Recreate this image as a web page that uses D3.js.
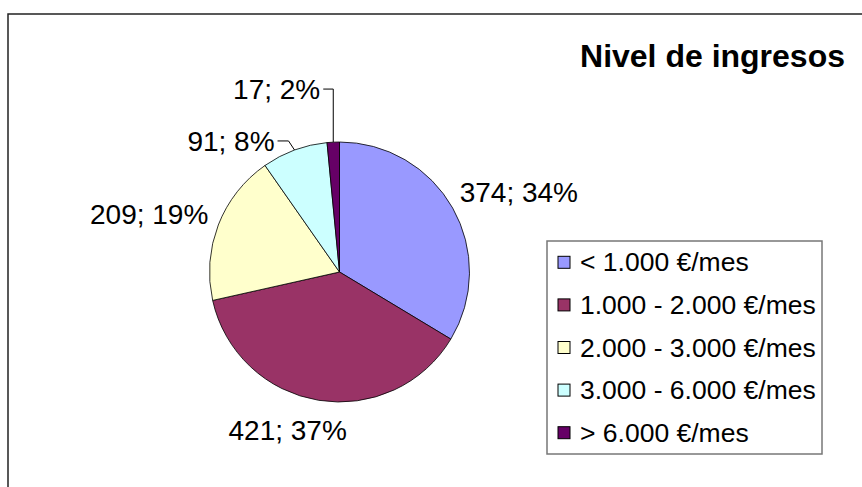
<!DOCTYPE html>
<html>
<head>
<meta charset="utf-8">
<script src="https://cdn.jsdelivr.net/npm/d3@7"></script>
<style>
  body { margin: 0; background: #fff; }
  text { font-family: "Liberation Sans", Arial, sans-serif; fill: #000; }
</style>
</head>
<body>
<div class="chart"></div>
<script>
// Chart data
var categories = ["< 1.000 €/mes", "1.000 - 2.000 €/mes", "2.000 - 3.000 €/mes", "3.000 - 6.000 €/mes", "> 6.000 €/mes"];
var counts = [374, 421, 209, 91, 17];
var percents = [34, 37, 19, 8, 2];
var sliceColors = ["#9999FF", "#993366", "#FFFFCC", "#CCFFFF", "#660066"];
var chartTitle = "Nivel de ingresos";

// Label layout: offset from the slice edge point, anchor, leader elbow
var labelLayout = [
  { dx: 7, dy: -6, anchor: "start", leader: false },
  { dx: -31, dy: 40, anchor: "middle", leader: false },
  { dx: -10, dy: -1, anchor: "end", leader: false },
  { dx: -20, dy: 1, anchor: "end", leader: true, elbow: 6 },
  { dx: -13, dy: -43, anchor: "end", leader: true, elbow: 0 }
];

var svgWidth = 862;
var svgHeight = 487;

var svg = d3.select(".chart")
  .append("svg")
  .attr("width", svgWidth)
  .attr("height", svgHeight);

// Outer chart frame (runs off the right and bottom edges)
svg.append("rect")
  .attr("x", 8)
  .attr("y", 14)
  .attr("width", 900)
  .attr("height", 600)
  .attr("fill", "none")
  .attr("stroke", "#222")
  .attr("stroke-width", 1.5);

// Title
svg.append("text")
  .attr("x", 845)
  .attr("y", 67)
  .attr("text-anchor", "end")
  .attr("font-size", "32px")
  .attr("font-weight", "bold")
  .text(chartTitle);

// Pie
var radius = 130;
var pieGroup = svg.append("g")
  .attr("transform", "translate(339.5, 272)");

var pie = d3.pie().sort(null).value(d => d);
var arcs = pie(counts);

var arc = d3.arc().innerRadius(0).outerRadius(radius);
var edgeArc = d3.arc().innerRadius(radius).outerRadius(radius);

pieGroup.selectAll(".slice")
  .data(arcs)
  .enter()
  .append("path")
  .attr("class", "slice")
  .attr("d", arc)
  .attr("fill", (d, i) => sliceColors[i])
  .attr("stroke", "#000")
  .attr("stroke-width", 0.8);

// Data labels
var labelFont = 28;
arcs.forEach(function(d, i) {
  var p = edgeArc.centroid(d);
  var lay = labelLayout[i];
  var lx = p[0] + lay.dx;
  var ly = p[1] + lay.dy;

  pieGroup.append("text")
    .attr("x", lx)
    .attr("y", ly)
    .attr("text-anchor", lay.anchor)
    .attr("font-size", labelFont + "px")
    .text(counts[i] + "; " + percents[i] + "%");

  if (lay.leader) {
    var midY = ly - labelFont * 0.36;
    var startX = lx + 3;
    var elbowX = p[0] - lay.elbow;
    pieGroup.append("polyline")
      .attr("points", [[startX, midY], [elbowX, midY], [p[0], p[1]]].map(q => q.join(",")).join(" "))
      .attr("fill", "none")
      .attr("stroke", "#000")
      .attr("stroke-width", 1);
  }
});

// Legend
var legend = svg.append("g")
  .attr("transform", "translate(547, 241)");

legend.append("rect")
  .attr("width", 275)
  .attr("height", 213)
  .attr("fill", "#fff")
  .attr("stroke", "#777")
  .attr("stroke-width", 1.5);

var legendY = d3.scaleBand()
  .domain(categories)
  .range([0, 213]);

var legendItems = legend.selectAll(".legend-item")
  .data(categories)
  .enter()
  .append("g")
  .attr("class", "legend-item")
  .attr("transform", d => `translate(0, ${legendY(d) + legendY.bandwidth() / 2})`);

legendItems.append("rect")
  .attr("x", 11)
  .attr("y", -6)
  .attr("width", 12)
  .attr("height", 12)
  .attr("fill", (d, i) => sliceColors[i])
  .attr("stroke", "#000")
  .attr("stroke-width", 1);

legendItems.append("text")
  .attr("x", 33)
  .attr("y", 9)
  .attr("font-size", "26.5px")
  .text(d => d);
</script>
</body>
</html>
